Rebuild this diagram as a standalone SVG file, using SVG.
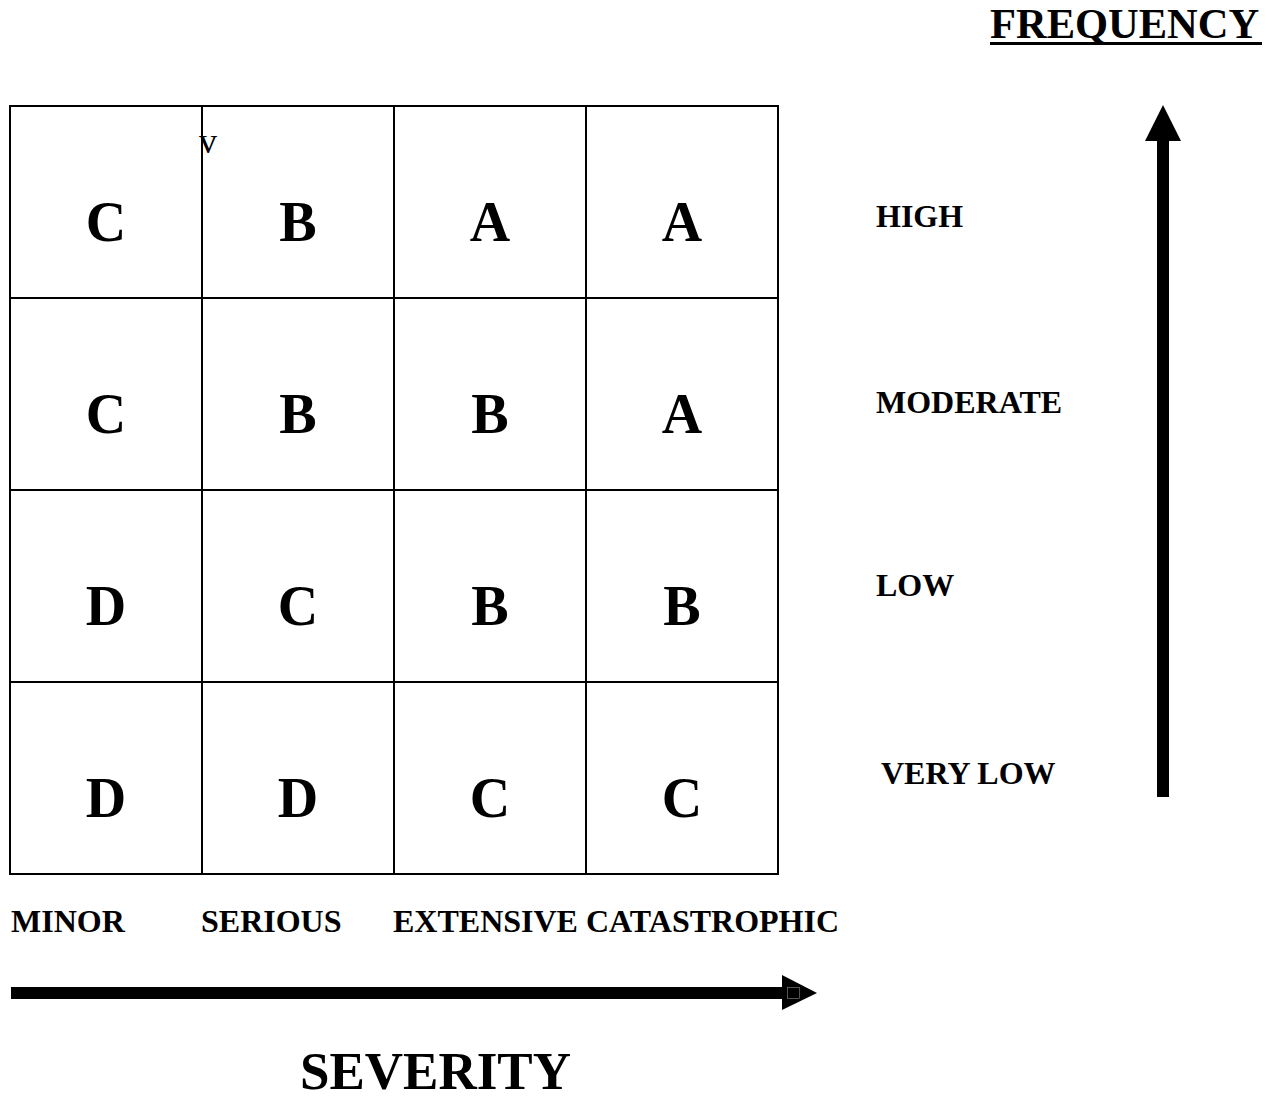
<svg xmlns="http://www.w3.org/2000/svg" width="1270" height="1101" viewBox="0 0 1270 1101">
  <style>
    text { font-family: "Liberation Serif", "Times New Roman", serif; fill: #000; }
    .cell rect { fill: #fff; stroke: #000; stroke-width: 2; }
    .grade { font-size: 56px; font-weight: bold; text-anchor: middle; }
    .axis-label { font-size: 32px; font-weight: bold; }
    .title { font-weight: bold; }
    .arrow { fill: #000; }
  </style>
  <rect width="1270" height="1101" fill="#fff"/>

  <!-- Frequency title -->
  <g id="frequency-title">
    <text class="title" x="990" y="38" font-size="42.5">FREQUENCY</text>
    <rect x="990" y="42" width="272" height="3" fill="#000"/>
  </g>

  <!-- Risk matrix: rows HIGH..VERY LOW, columns MINOR..CATASTROPHIC -->
  <g id="matrix">
    <g id="cell-high-minor" class="cell"><rect x="10" y="106" width="192" height="192"/><text class="grade" x="106" y="241">C</text></g>
    <g id="cell-high-serious" class="cell"><rect x="202" y="106" width="192" height="192"/><text class="grade" x="298" y="241">B</text></g>
    <g id="cell-high-extensive" class="cell"><rect x="394" y="106" width="192" height="192"/><text class="grade" x="490" y="241">A</text></g>
    <g id="cell-high-catastrophic" class="cell"><rect x="586" y="106" width="192" height="192"/><text class="grade" x="682" y="241">A</text></g>

    <g id="cell-moderate-minor" class="cell"><rect x="10" y="298" width="192" height="192"/><text class="grade" x="106" y="433">C</text></g>
    <g id="cell-moderate-serious" class="cell"><rect x="202" y="298" width="192" height="192"/><text class="grade" x="298" y="433">B</text></g>
    <g id="cell-moderate-extensive" class="cell"><rect x="394" y="298" width="192" height="192"/><text class="grade" x="490" y="433">B</text></g>
    <g id="cell-moderate-catastrophic" class="cell"><rect x="586" y="298" width="192" height="192"/><text class="grade" x="682" y="433">A</text></g>

    <g id="cell-low-minor" class="cell"><rect x="10" y="490" width="192" height="192"/><text class="grade" x="106" y="625">D</text></g>
    <g id="cell-low-serious" class="cell"><rect x="202" y="490" width="192" height="192"/><text class="grade" x="298" y="625">C</text></g>
    <g id="cell-low-extensive" class="cell"><rect x="394" y="490" width="192" height="192"/><text class="grade" x="490" y="625">B</text></g>
    <g id="cell-low-catastrophic" class="cell"><rect x="586" y="490" width="192" height="192"/><text class="grade" x="682" y="625">B</text></g>

    <g id="cell-verylow-minor" class="cell"><rect x="10" y="682" width="192" height="192"/><text class="grade" x="106" y="817">D</text></g>
    <g id="cell-verylow-serious" class="cell"><rect x="202" y="682" width="192" height="192"/><text class="grade" x="298" y="817">D</text></g>
    <g id="cell-verylow-extensive" class="cell"><rect x="394" y="682" width="192" height="192"/><text class="grade" x="490" y="817">C</text></g>
    <g id="cell-verylow-catastrophic" class="cell"><rect x="586" y="682" width="192" height="192"/><text class="grade" x="682" y="817">C</text></g>

    <!-- stray character at the top of the second column -->
    <text x="199" y="153" font-size="36">v</text>
  </g>

  <!-- Frequency levels -->
  <g id="frequency-levels">
    <text class="axis-label" x="876" y="227">HIGH</text>
    <text class="axis-label" x="876" y="413">MODERATE</text>
    <text class="axis-label" x="876" y="596">LOW</text>
    <text class="axis-label" x="881" y="784">VERY LOW</text>
  </g>

  <!-- Severity levels -->
  <g id="severity-levels">
    <text class="axis-label" x="11" y="932">MINOR</text>
    <text class="axis-label" x="201" y="932">SERIOUS</text>
    <text class="axis-label" x="393" y="932">EXTENSIVE</text>
    <text class="axis-label" x="586" y="932">CATASTROPHIC</text>
  </g>

  <!-- Axis arrows -->
  <g id="connectors">
    <g id="frequency-arrow" class="arrow">
      <rect x="1157" y="138" width="12" height="659"/>
      <polygon points="1163,105 1145,141 1181,141"/>
    </g>
    <g id="severity-arrow" class="arrow">
      <rect x="11" y="987" width="773" height="12"/>
      <polygon points="782,975 817,993 782,1010"/>
      <rect x="787.5" y="987.5" width="12" height="11" fill="none" stroke="#8a8a8a" stroke-width="0.6"/>
    </g>
  </g>

  <!-- Severity title -->
  <g id="severity-title">
    <text class="title" x="300" y="1089" font-size="53">SEVERITY</text>
  </g>
</svg>
